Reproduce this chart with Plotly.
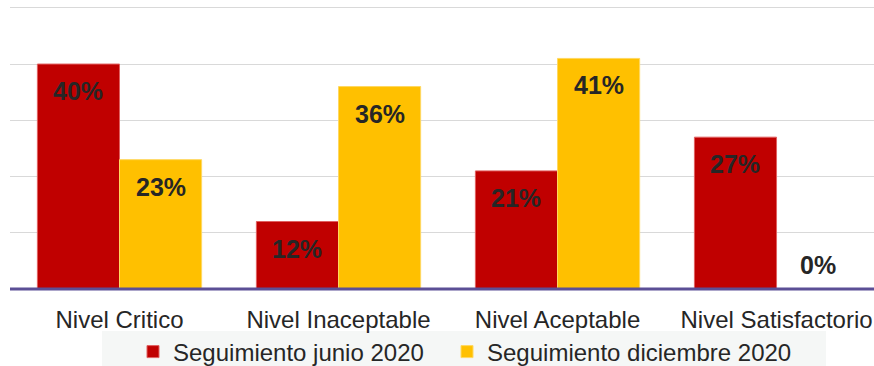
import plotly.graph_objects as go

categories = ["Nivel Critico", "Nivel Inaceptable", "Nivel Aceptable", "Nivel Satisfactorio"]
junio = [40, 12, 21, 27]
diciembre = [23, 36, 41, 0]
series_names = ["Seguimiento junio 2020", "Seguimiento diciembre 2020"]
y_ticks = [0, 10, 20, 30, 40, 50]

RED = "#C00000"
YEL = "#FFC000"
FONT = "Liberation Sans, Arial, sans-serif"

W, H = 874, 366
ML, MR, MT, MB = 10, 0, 5, 77
PW, PH = W - ML - MR, H - MT - MB

fig = go.Figure()
fig.add_trace(go.Bar(x=categories, y=junio, name=series_names[0], legend="legend",
                     marker=dict(color=RED, line=dict(color="#E06060", width=1))))
fig.add_trace(go.Bar(x=categories, y=diciembre, name=series_names[1], legend="legend2",
                     marker=dict(color=YEL, line=dict(color="#FFD860", width=1))))

bargap = 0.25
half = (1 - bargap) / 4
for i, (a, b) in enumerate(zip(junio, diciembre)):
    for off, v in ((-half, a), (half, b)):
        fig.add_annotation(x=i + off, y=v, xref="x", yref="y", text=f"<b>{v}%</b>",
                           showarrow=False, yshift=(-27 if v > 0 else 24),
                           font=dict(family=FONT, size=25, color="#262626"))

# axis baseline
fig.add_shape(type="line", xref="paper", yref="paper", x0=0, x1=1, y0=0, y1=0,
              line=dict(color="#5B4F96", width=3))
# legend background panel
fig.add_shape(type="rect", xref="paper", yref="paper",
              x0=(102 - ML) / PW, x1=(826 - ML) / PW,
              y0=-(H - MT - PH + 10) / PH, y1=-(331 - MT - PH) / PH,
              fillcolor="#F5F7F6", line=dict(width=0), layer="below")

leg_common = dict(orientation="h", xref="container", yref="container",
                  xanchor="left", y=(H - 352) / H, yanchor="middle",
                  bgcolor="rgba(0,0,0,0)", font=dict(size=24, color="#262626"),
                  itemwidth=30)

fig.update_layout(
    width=W, height=H,
    margin=dict(l=ML, r=MR, t=MT, b=MB, autoexpand=False),
    paper_bgcolor="white", plot_bgcolor="white",
    barmode="group", bargap=bargap, bargroupgap=0,
    font=dict(family=FONT, size=24, color="#262626"),
    xaxis=dict(range=[-0.5, 3.445], showgrid=False, showline=False, ticks="",
               automargin=False,
               ticklabelstandoff=14, tickfont=dict(size=24, color="#262626")),
    yaxis=dict(range=[0, 50.5], tickvals=y_ticks, showticklabels=False, automargin=False,
               showgrid=True, gridcolor="#D9D9D9", gridwidth=1, zeroline=False),
    legend=dict(x=133 / W, **leg_common),
    legend2=dict(x=447 / W, **leg_common),
    showlegend=True,
)

fig.write_html("out.html", config={"displayModeBar": False},
               post_script="document.body.style.margin='0px';")
